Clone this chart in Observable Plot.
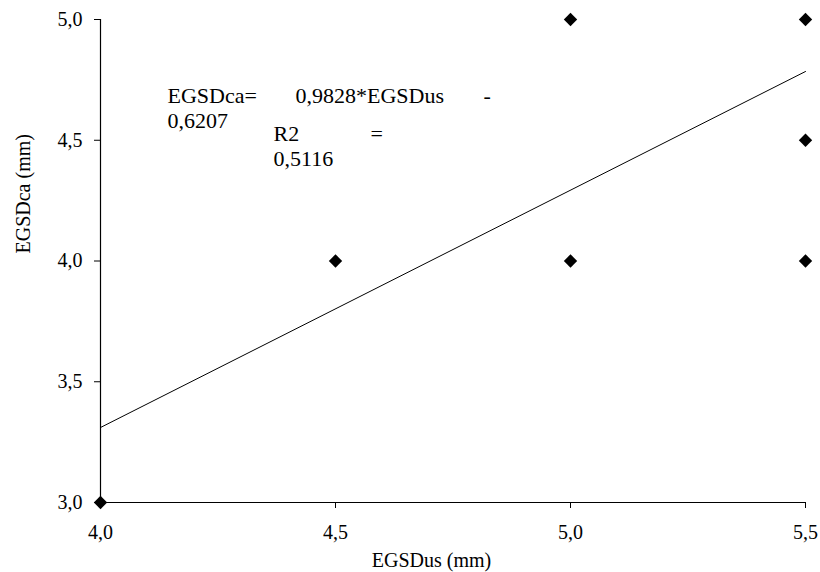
<!DOCTYPE html>
<html><head><meta charset="utf-8">
<script src="https://cdn.jsdelivr.net/npm/d3@7"></script>
<script src="https://cdn.jsdelivr.net/npm/@observablehq/plot@0.6"></script>
<style>
body{margin:0;background:#fff;}
</style>
</head><body><div id="chart"></div>
<script>
const egsdUs = [4.0, 4.5, 5.0, 5.0, 5.5, 5.5, 5.5];
const egsdCa = [3.0, 4.0, 4.0, 5.0, 5.0, 4.5, 4.0];
const slope = 0.9828;
const intercept = -0.6207;
const fitX = [4.0, 5.5];
const xTicks = [4.0, 4.5, 5.0, 5.5];
const yTicks = [3.0, 3.5, 4.0, 4.5, 5.0];
const xLabel = "EGSDus (mm)";
const yLabel = "EGSDca (mm)";
const annotation = [
  {text: "EGSDca=", dx: 67, dy: 76},
  {text: "0,9828*EGSDus", dx: 195, dy: 76},
  {text: "-", dx: 383, dy: 76},
  {text: "0,6207", dx: 67, dy: 101},
  {text: "R2", dx: 173, dy: 114.5},
  {text: "=", dx: 270, dy: 114.5},
  {text: "0,5116", dx: 173, dy: 139.5}
];

const points = egsdUs.map((x, i) => ({x, y: egsdCa[i]}));
const fit = fitX.map(x => ({x, y: slope * x + intercept}));
const fmt = d => d.toFixed(1).replace(".", ",");

const chart = Plot.plot({
  width: 820, height: 572,
  marginLeft: 100, marginRight: 15, marginTop: 19, marginBottom: 70,
  style: "font-family: 'Liberation Serif', 'Times New Roman', serif; font-size: 20px; color: #000; background: #fff;",
  x: {domain: [4.0, 5.5]},
  y: {domain: [3.0, 5.0]},
  marks: [
    Plot.axisX({ticks: xTicks, tickFormat: fmt, tickSize: 6, tickPadding: 16, fontSize: 20, label: null}),
    Plot.axisY({ticks: yTicks, tickFormat: fmt, tickSize: 6, tickPadding: 12, fontSize: 20, label: null}),
    Plot.ruleX([4.0], {stroke: "#000", strokeWidth: 1.2}),
    Plot.ruleY([3.0], {stroke: "#000", strokeWidth: 1.2}),
    Plot.line(fit, {x: "x", y: "y", stroke: "#000", strokeWidth: 1}),
    Plot.dot(points, {x: "x", y: "y", symbol: "diamond2", r: 6, fill: "#000", stroke: "none"}),
    Plot.text([xLabel], {frameAnchor: "bottom", dx: -21.5, dy: 58, lineAnchor: "middle", fontSize: 20, fill: "#000"}),
    Plot.text([yLabel], {frameAnchor: "left", rotate: -90, dx: -77, dy: -7.5, lineAnchor: "middle", fontSize: 20, fill: "#000"}),
    ...annotation.map(a => Plot.text([a.text], {frameAnchor: "top-left", dx: a.dx, dy: a.dy,
      textAnchor: "start", lineAnchor: "middle", fontSize: 22, fill: "#000"}))
  ]
});
document.getElementById("chart").appendChild(chart);
</script></body></html>
